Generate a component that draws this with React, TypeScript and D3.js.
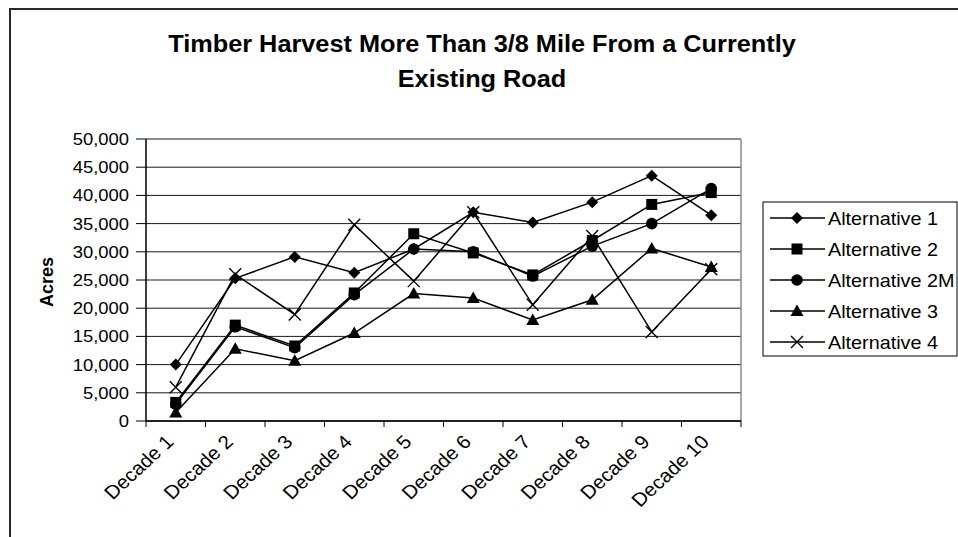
import React from "react";
import * as d3 from "d3";

const categories = ["Decade 1", "Decade 2", "Decade 3", "Decade 4", "Decade 5", "Decade 6", "Decade 7", "Decade 8", "Decade 9", "Decade 10"];
const alt1 = [10000, 25300, 29100, 26300, 30500, 37000, 35200, 38800, 43500, 36500];
const alt2 = [3300, 17000, 13300, 22700, 33200, 29800, 25900, 32000, 38400, 40500];
const alt2M = [3000, 16700, 13000, 22400, 30500, 30000, 25700, 31000, 35000, 41200];
const alt3 = [1500, 12800, 10700, 15600, 22600, 21800, 17900, 21500, 30600, 27300];
const alt4 = [6000, 26000, 18900, 34800, 24800, 37000, 20600, 32800, 15800, 26900];
const seriesNames = ["Alternative 1", "Alternative 2", "Alternative 2M", "Alternative 3", "Alternative 4"];
const yTicks = [0, 5000, 10000, 15000, 20000, 25000, 30000, 35000, 40000, 45000, 50000];

const W = 958;
const H = 537;
const plot = { left: 146, right: 741, top: 139, bottom: 421 };
const FONT = "'Liberation Sans', Arial, sans-serif";
const SX = 1.15; // horizontal text stretch

type Marker = "diamond" | "square" | "circle" | "triangle" | "cross";
const markers: Marker[] = ["diamond", "square", "circle", "triangle", "cross"];
const seriesValues = [alt1, alt2, alt2M, alt3, alt4];

function MarkerShape({ kind, x, y }: { kind: Marker; x: number; y: number }) {
  switch (kind) {
    case "diamond":
      return <path d={`M${x},${y - 6}L${x + 6},${y}L${x},${y + 6}L${x - 6},${y}Z`} fill="#000" />;
    case "square":
      return <rect x={x - 5.5} y={y - 5.5} width={11} height={11} fill="#000" />;
    case "circle":
      return <circle cx={x} cy={y} r={5.8} fill="#000" />;
    case "triangle":
      return <path d={`M${x},${y - 6.5}L${x + 6.5},${y + 5}L${x - 6.5},${y + 5}Z`} fill="#000" />;
    case "cross":
      return (
        <path
          d={`M${x - 6},${y - 6}L${x + 6},${y + 6}M${x + 6},${y - 6}L${x - 6},${y + 6}`}
          stroke="#000"
          strokeWidth={1.4}
          fill="none"
        />
      );
  }
}

export default function App() {
  const x = d3.scaleBand<string>().domain(categories).range([plot.left, plot.right]).padding(0);
  const cx = (c: string) => (x(c) as number) + x.bandwidth() / 2;
  const y = d3.scaleLinear().domain([0, 50000]).range([plot.bottom, plot.top]);
  const fmt = d3.format(",");
  const line = d3
    .line<number>()
    .x((_, i) => cx(categories[i]))
    .y((v) => y(v));

  const boundaries = categories.map((c) => x(c) as number).concat([plot.right]);
  const legend = { x: 763, y: 202, w: 194, h: 154 };
  const rowY = (i: number) => 218 + i * 31;

  return (
    <svg
      width={W}
      height={H}
      style={{ position: "absolute", left: 0, top: 0, background: "#fff" }}
      fontFamily={FONT}
    >
      <rect x={0} y={0} width={W} height={H} fill="#fff" />
      {/* chart frame */}
      <path d={`M10,${H + 5}L10,9L${W + 5},9`} fill="none" stroke="#2a2a2a" strokeWidth={2} />

      {/* title */}
      <g fontWeight="bold" fontSize={23} textAnchor="middle" fill="#000">
        <text transform={`translate(482,52) scale(1.1,1)`}>Timber Harvest More Than 3/8 Mile From a Currently</text>
        <text transform={`translate(482,87) scale(1.1,1)`}>Existing Road</text>
      </g>

      {/* gridlines */}
      {yTicks.map((t) => (
        <line key={t} x1={plot.left} x2={plot.right} y1={y(t)} y2={y(t)} stroke="#1a1a1a" strokeWidth={1} />
      ))}
      {/* plot border (right side) */}
      <line x1={plot.right} x2={plot.right} y1={plot.top} y2={plot.bottom} stroke="#888" strokeWidth={1.5} />

      {/* y axis */}
      <line x1={plot.left} x2={plot.left} y1={plot.top} y2={plot.bottom} stroke="#000" strokeWidth={1.5} />
      {yTicks.map((t) => (
        <g key={t}>
          <line x1={plot.left - 10} x2={plot.left} y1={y(t)} y2={y(t)} stroke="#000" strokeWidth={1} />
          <text
            transform={`translate(129,${y(t) + 6}) scale(${SX},1)`}
            fontSize={16}
            textAnchor="end"
            fill="#000"
          >
            {fmt(t)}
          </text>
        </g>
      ))}
      <text
        transform={`translate(53,282) rotate(-90)`}
        fontSize={18}
        fontWeight="bold"
        textAnchor="middle"
        fill="#000"
      >
        Acres
      </text>

      {/* x axis */}
      <line x1={plot.left} x2={plot.right} y1={plot.bottom} y2={plot.bottom} stroke="#000" strokeWidth={1.5} />
      {boundaries.map((b, i) => (
        <line key={i} x1={b} x2={b} y1={plot.bottom} y2={plot.bottom + 6} stroke="#000" strokeWidth={1} />
      ))}
      {categories.map((c) => (
        <text
          key={c}
          transform={`translate(${cx(c) - 1},${plot.bottom + 22}) scale(1.08,1) rotate(-45)`}
          fontSize={19}
          textAnchor="end"
          fill="#000"
        >
          {c}
        </text>
      ))}

      {/* series */}
      {seriesValues.map((vals, si) => (
        <g key={si}>
          <path d={line(vals) as string} fill="none" stroke="#000" strokeWidth={1.5} />
          {vals.map((v, i) => (
            <MarkerShape key={i} kind={markers[si]} x={cx(categories[i])} y={y(v)} />
          ))}
        </g>
      ))}

      {/* legend */}
      <rect x={legend.x} y={legend.y} width={legend.w} height={legend.h} fill="#fff" stroke="#000" strokeWidth={1} />
      {seriesNames.map((n, i) => (
        <g key={n}>
          <line x1={770} x2={825} y1={rowY(i)} y2={rowY(i)} stroke="#000" strokeWidth={1.5} />
          <MarkerShape kind={markers[i]} x={797} y={rowY(i)} />
          <text transform={`translate(828,${rowY(i) + 6.5}) scale(1.1,1)`} fontSize={18} fill="#000">
            {n}
          </text>
        </g>
      ))}
    </svg>
  );
}
